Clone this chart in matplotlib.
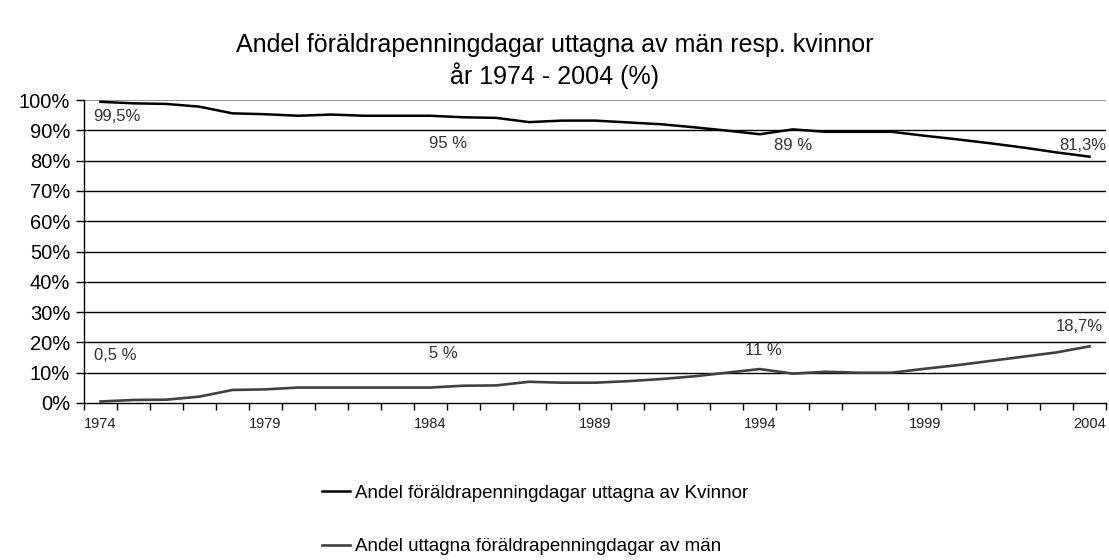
import numpy as np
import matplotlib
matplotlib.use('Agg')
import matplotlib.pyplot as plt
from matplotlib.ticker import FixedLocator, PercentFormatter

# ── Data ──────────────────────────────────────────────────────────────────────
years = list(range(1974, 2005))
kvinnor = [99.4, 98.9, 98.7, 97.8, 95.6, 95.3, 94.8, 95.2, 94.8, 94.8,
           94.8, 94.3, 94.1, 92.7, 93.2, 93.2, 92.6, 92.0, 91.0, 89.9,
           88.7, 90.3, 89.5, 89.5, 89.5, 88.2, 87.0, 85.7, 84.3, 82.7, 81.3]
man = [0.5, 1.0, 1.1, 2.1, 4.3, 4.5, 5.1, 5.1, 5.1, 5.1,
       5.1, 5.7, 5.8, 7.0, 6.7, 6.7, 7.2, 7.9, 8.8, 10.0,
       11.2, 9.7, 10.3, 10.0, 10.0, 11.3, 12.5, 13.9, 15.3, 16.7, 18.7]
tick_years = [1974, 1979, 1984, 1989, 1994, 1999, 2004]

label_kv = "Andel föräldrapenningdagar uttagna av Kvinnor"
label_man = "Andel uttagna föräldrapenningdagar av män"
title = "Andel föräldrapenningdagar uttagna av män resp. kvinnor\når 1974 - 2004 (%)"

# data labels: text, year, value (where the label sits)
ann_text = ["99,5%", "95 %", "89 %", "81,3%", "0,5 %", "5 %", "11 %", "18,7%"]
ann_x    = [1974.5, 1984.55, 1995.0, 2003.8, 1974.45, 1984.4, 1994.1, 2003.7]
ann_y    = [94.4, 85.5, 85.0, 85.0, 15.8, 16.5, 17.3, 25.2]

plt.rcParams['font.family'] = ['Liberation Sans', 'DejaVu Sans']

# ── Figure ────────────────────────────────────────────────────────────────────
W, H = 1109, 560
fig = plt.figure(figsize=(W / 100, H / 100), dpi=100, facecolor='white')
ax = fig.add_axes([84 / W, 1 - 403 / H, (1106 - 84) / W, (403 - 100) / H])

ax.set_xlim(1973.5, 2004.5)
ax.set_ylim(0, 100)

# gridlines
for v in range(10, 100, 10):
    ax.axhline(v, color='black', lw=1.0, zorder=1)
ax.axhline(100, color='#808080', lw=1.2, zorder=1)

ax.plot(years, kvinnor, color='black', lw=1.8, label=label_kv, zorder=3)
ax.plot(years, man, color='#404040', lw=1.9, label=label_man, zorder=3)

for t, x, y in zip(ann_text, ann_x, ann_y):
    ax.text(x, y, t, ha='center', va='center', fontsize=12, color='#333333')

# axes styling
for s in ['top', 'right']:
    ax.spines[s].set_visible(False)
ax.spines['left'].set_linewidth(1.0)
ax.spines['bottom'].set_linewidth(1.0)

ax.yaxis.set_major_locator(FixedLocator(range(0, 101, 10)))
ax.yaxis.set_major_formatter(PercentFormatter(decimals=0))
ax.tick_params(axis='y', length=6, width=1, labelsize=14.5, pad=4)

ax.xaxis.set_major_locator(FixedLocator(tick_years))
ax.xaxis.set_minor_locator(FixedLocator(np.arange(1973.5, 2005, 1)))
ax.tick_params(axis='x', which='major', length=0, labelsize=10.5, pad=10,
               labelcolor='#222222')
ax.tick_params(axis='x', which='minor', length=5, width=1)

fig.text(0.5, 1 - 61 / H, title, ha='center', va='center', fontsize=18,
         linespacing=1.25)

fig.legend(loc='center', bbox_to_anchor=(535 / W, 1 - 520 / H), frameon=False,
           fontsize=13.5, labelspacing=1.95, handlelength=1.5, handletextpad=0.25)

fig.savefig('out.png', dpi=100, facecolor='white')
